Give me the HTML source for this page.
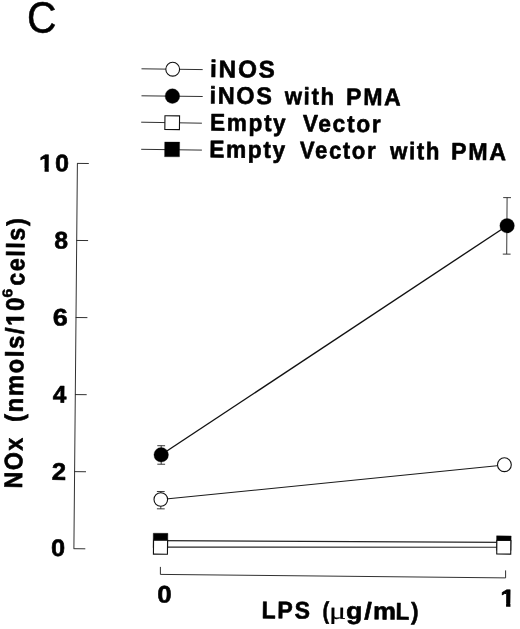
<!DOCTYPE html>
<html><head><meta charset="utf-8"><title>Figure C</title>
<style>html,body{margin:0;padding:0;background:#fff}svg{display:block}text{fill:#000}</style>
</head><body>
<svg width="520" height="629" viewBox="0 0 520 629">
<rect width="520" height="629" fill="#fff"/>
<text transform="translate(26.9,33.2) scale(0.93,1)" font-family="'Liberation Sans', sans-serif" font-size="44" stroke="#000" stroke-width="0.5">C</text>
<line x1="141.5" y1="68.8" x2="202.7" y2="69.6" stroke="#262626" stroke-width="0.95"/>
<circle cx="172.7" cy="69.2" r="6.9" fill="#fff" stroke="#111" stroke-width="1.1"/>
<line x1="141.5" y1="95.8" x2="202.7" y2="96.5" stroke="#262626" stroke-width="0.95"/>
<circle cx="172.4" cy="96.1" r="7.3" fill="#000" stroke="#111" stroke-width="0.4"/>
<line x1="141.2" y1="122.2" x2="201.9" y2="123.2" stroke="#262626" stroke-width="0.95"/>
<rect x="-7.3" y="-6.9" width="14.6" height="13.8" fill="#fff" stroke="#111" stroke-width="1.1" transform="translate(172.2,122.7) rotate(0.55)"/>
<line x1="141.2" y1="149.3" x2="201.9" y2="150.1" stroke="#262626" stroke-width="0.95"/>
<rect x="-7.5" y="-7.4" width="15" height="14.8" fill="#000" stroke="#111" stroke-width="0.3" transform="translate(172.1,149.4) rotate(0.55)"/>
<text transform="translate(211.30,77.10) rotate(0.55)" font-family="'Liberation Sans', sans-serif" font-weight="bold" font-size="24" stroke="#000" stroke-width="0.6" stroke-linejoin="round"><tspan x="-1.40" y="0.00" textLength="66.77" lengthAdjust="spacingAndGlyphs" letter-spacing="1.8">iNOS</tspan></text>
<text transform="translate(210.80,103.60) rotate(0.55)" font-family="'Liberation Sans', sans-serif" font-weight="bold" font-size="24" stroke="#000" stroke-width="0.6" stroke-linejoin="round"><tspan x="-1.33" y="0.00" textLength="64.20" lengthAdjust="spacingAndGlyphs" letter-spacing="1.8">iNOS</tspan> <tspan x="73.96" y="0.00" textLength="50.87" lengthAdjust="spacingAndGlyphs" letter-spacing="1.8">with</tspan> <tspan x="135.26" y="0.00" textLength="56.38" lengthAdjust="spacingAndGlyphs" letter-spacing="1.8">PMA</tspan></text>
<text transform="translate(211.20,130.60) rotate(0.55)" font-family="'Liberation Sans', sans-serif" font-weight="bold" font-size="24" stroke="#000" stroke-width="0.6" stroke-linejoin="round"><tspan x="-1.21" y="0.00" textLength="77.32" lengthAdjust="spacingAndGlyphs" letter-spacing="1.8">Empty</tspan> <tspan x="91.45" y="0.00" textLength="79.67" lengthAdjust="spacingAndGlyphs" letter-spacing="1.8">Vector</tspan></text>
<text transform="translate(210.40,157.29) rotate(0.55)" font-family="'Liberation Sans', sans-serif" font-weight="bold" font-size="24" stroke="#000" stroke-width="0.6" stroke-linejoin="round"><tspan x="-1.22" y="0.00" textLength="77.74" lengthAdjust="spacingAndGlyphs" letter-spacing="1.8">Empty</tspan> <tspan x="89.45" y="0.00" textLength="77.41" lengthAdjust="spacingAndGlyphs" letter-spacing="1.8">Vector</tspan> <tspan x="179.57" y="0.00" textLength="51.18" lengthAdjust="spacingAndGlyphs" letter-spacing="1.8">with</tspan> <tspan x="240.55" y="0.00" textLength="56.70" lengthAdjust="spacingAndGlyphs" letter-spacing="1.8">PMA</tspan></text>
<line x1="77.4" y1="163.3" x2="73.9" y2="548.6" stroke="#262626" stroke-width="0.95"/>
<line x1="77.09909161692188" y1="163.4" x2="88.79909161692188" y2="163.5" stroke="#262626" stroke-width="0.95"/>
<line x1="76.3990916169219" y1="240.46" x2="88.0990916169219" y2="240.56" stroke="#262626" stroke-width="0.95"/>
<line x1="75.69909161692189" y1="317.52" x2="87.3990916169219" y2="317.62" stroke="#262626" stroke-width="0.95"/>
<line x1="74.99909161692189" y1="394.58000000000004" x2="86.69909161692189" y2="394.68000000000006" stroke="#262626" stroke-width="0.95"/>
<line x1="74.29909161692188" y1="471.64" x2="85.99909161692189" y2="471.74" stroke="#262626" stroke-width="0.95"/>
<line x1="73.59909161692188" y1="548.7" x2="85.29909161692188" y2="548.8000000000001" stroke="#262626" stroke-width="0.95"/>
<text transform="translate(39.10,171.20) rotate(0.55) scale(1.0427,1)" font-family="'Liberation Sans', sans-serif" font-weight="bold" font-size="24" letter-spacing="1.8" stroke="#000" stroke-width="0.6" stroke-linejoin="round">10</text>
<g transform="translate(39.10,171.20) rotate(0.55) scale(1.0427,1)" fill="#fff"><rect x="0.61" y="-3.35" width="4.64" height="4.35"/><rect x="9.24" y="-3.35" width="4.34" height="4.35"/></g>
<text transform="translate(54.33,248.40) rotate(0.55) scale(1.0283,1)" font-family="'Liberation Sans', sans-serif" font-weight="bold" font-size="24" letter-spacing="1.8" stroke="#000" stroke-width="0.6" stroke-linejoin="round">8</text>
<text transform="translate(52.85,325.60) rotate(0.55) scale(1.1228,1)" font-family="'Liberation Sans', sans-serif" font-weight="bold" font-size="24" letter-spacing="1.8" stroke="#000" stroke-width="0.6" stroke-linejoin="round">6</text>
<text transform="translate(52.64,402.50) rotate(0.55) scale(1.0182,1)" font-family="'Liberation Sans', sans-serif" font-weight="bold" font-size="24" letter-spacing="1.8" stroke="#000" stroke-width="0.6" stroke-linejoin="round">4</text>
<text transform="translate(51.73,479.80) rotate(0.55) scale(1.0695,1)" font-family="'Liberation Sans', sans-serif" font-weight="bold" font-size="24" letter-spacing="1.8" stroke="#000" stroke-width="0.6" stroke-linejoin="round">2</text>
<text transform="translate(51.02,556.10) rotate(0.55) scale(1.0488,1)" font-family="'Liberation Sans', sans-serif" font-weight="bold" font-size="24" letter-spacing="1.8" stroke="#000" stroke-width="0.6" stroke-linejoin="round">0</text>
<line x1="160.4" y1="566.9" x2="160.4" y2="574.4" stroke="#262626" stroke-width="0.95"/>
<line x1="160.4" y1="574.4" x2="505.6" y2="577.9" stroke="#262626" stroke-width="0.95"/>
<line x1="505.6" y1="570.4" x2="505.6" y2="577.9" stroke="#262626" stroke-width="0.95"/>
<text transform="translate(157.20,602.60) rotate(0.55) scale(1.0737,1)" font-family="'Liberation Sans', sans-serif" font-weight="bold" font-size="24" letter-spacing="1.8" stroke="#000" stroke-width="0.6" stroke-linejoin="round">0</text>
<text transform="translate(500.33,606.30) rotate(0.55) scale(1.0950,1)" font-family="'Liberation Sans', sans-serif" font-weight="bold" font-size="24" letter-spacing="1.8" stroke="#000" stroke-width="0.6" stroke-linejoin="round">1</text>
<g transform="translate(500.33,606.30) rotate(0.55) scale(1.0950,1)" fill="#fff"><rect x="0.61" y="-3.35" width="4.64" height="4.35"/><rect x="9.24" y="-3.35" width="4.34" height="4.35"/></g>
<text transform="translate(262.70,618.20) rotate(0.55)" font-family="'Liberation Sans', sans-serif" font-weight="bold" font-size="24" stroke="#000" stroke-width="0.6" stroke-linejoin="round"><tspan x="-1.25" y="0.00" textLength="50.19" lengthAdjust="spacingAndGlyphs" letter-spacing="1.8">LPS</tspan> <tspan x="59.91" y="0.00" textLength="6.61" lengthAdjust="spacingAndGlyphs">(</tspan><tspan x="66.22" y="0.00" textLength="17.09" lengthAdjust="spacingAndGlyphs" font-size="24" stroke-width="0.2" font-family="'Liberation Serif', serif" font-weight="normal">μ</tspan><tspan x="83.20" y="0.00" textLength="27.76" lengthAdjust="spacingAndGlyphs" letter-spacing="1.8">g/</tspan><tspan x="110.30" y="0.00" textLength="22.89" lengthAdjust="spacingAndGlyphs">m</tspan><tspan x="132.89" y="0.00" textLength="24.61" lengthAdjust="spacingAndGlyphs" letter-spacing="1.8">L)</tspan></text>
<text transform="translate(22.02,487.30) rotate(-89.4) scale(1,1.06)" font-family="'Liberation Sans', sans-serif" font-weight="bold" font-size="24" stroke="#000" stroke-width="0.6" stroke-linejoin="round"><tspan x="-1.25" y="0.00" textLength="52.16" lengthAdjust="spacingAndGlyphs" letter-spacing="1.6">NOx</tspan> <tspan x="65.31" y="0.00" textLength="125.76" lengthAdjust="spacingAndGlyphs" letter-spacing="1.6">(nmols/10</tspan><tspan x="189.50" y="-11.13" textLength="9.09" lengthAdjust="spacingAndGlyphs" font-size="13.3" stroke-width="0.4">6</tspan><tspan x="201.59" y="0.00" textLength="68.93" lengthAdjust="spacingAndGlyphs" letter-spacing="1.6">cells)</tspan></text>
<g transform="translate(22.02,487.30) rotate(-89.4) scale(1,1.06)" fill="#fff"><rect x="161.94" y="-3.35" width="4.62" height="4.35"/><rect x="170.53" y="-3.35" width="4.32" height="4.35"/></g>
<line x1="161.2" y1="454.8" x2="507.1" y2="225.7" stroke="#111" stroke-width="1.35"/>
<line x1="160.8" y1="499.6" x2="504.4" y2="464.9" stroke="#1a1a1a" stroke-width="1.05"/>
<line x1="160.5" y1="540.6" x2="503.8" y2="542.4" stroke="#262626" stroke-width="1.1"/>
<line x1="160.5" y1="547.1" x2="503.8" y2="547.2" stroke="#262626" stroke-width="1.1"/>
<line x1="161.2" y1="445.7" x2="161.2" y2="464.2" stroke="#222" stroke-width="0.9"/>
<line x1="157.29999999999998" y1="445.7" x2="165.1" y2="445.75" stroke="#222" stroke-width="0.9"/>
<line x1="157.29999999999998" y1="464.2" x2="165.1" y2="464.25" stroke="#222" stroke-width="0.9"/>
<line x1="160.8" y1="491.5" x2="160.8" y2="508.8" stroke="#222" stroke-width="0.9"/>
<line x1="156.9" y1="491.5" x2="164.70000000000002" y2="491.55" stroke="#222" stroke-width="0.9"/>
<line x1="156.9" y1="508.8" x2="164.70000000000002" y2="508.85" stroke="#222" stroke-width="0.9"/>
<line x1="507.09999999999997" y1="197.6" x2="506.7" y2="254.1" stroke="#222" stroke-width="0.9"/>
<line x1="503.2" y1="197.6" x2="510.99999999999994" y2="197.65" stroke="#222" stroke-width="0.9"/>
<line x1="502.8" y1="254.1" x2="510.59999999999997" y2="254.15" stroke="#222" stroke-width="0.9"/>
<circle cx="161.2" cy="454.8" r="7.3" fill="#000" stroke="#111" stroke-width="0.3"/>
<circle cx="507.1" cy="225.7" r="7.3" fill="#000" stroke="#111" stroke-width="0.3"/>
<circle cx="160.8" cy="499.5" r="6.8" fill="#fff" stroke="#111" stroke-width="1.1"/>
<circle cx="504.4" cy="464.7" r="6.9" fill="#fff" stroke="#111" stroke-width="1.1"/>
<rect x="-7.3" y="-7.3" width="14.6" height="14.6" fill="#000" stroke="#111" stroke-width="0.4" transform="translate(160.5,540.6) rotate(0.55)"/>
<rect x="-7.3" y="-7.3" width="14.6" height="14.6" fill="#000" stroke="#111" stroke-width="0.4" transform="translate(503.8,543.2) rotate(0.55)"/>
<rect x="-7.0" y="-6.95" width="14.0" height="13.9" fill="#fff" stroke="#111" stroke-width="1.1" transform="translate(160.5,547.2) rotate(0.55)"/>
<rect x="-7.0" y="-6.8" width="14.0" height="13.6" fill="#fff" stroke="#111" stroke-width="1.1" transform="translate(503.8,547.3) rotate(0.55)"/>
</svg>
</body></html>
